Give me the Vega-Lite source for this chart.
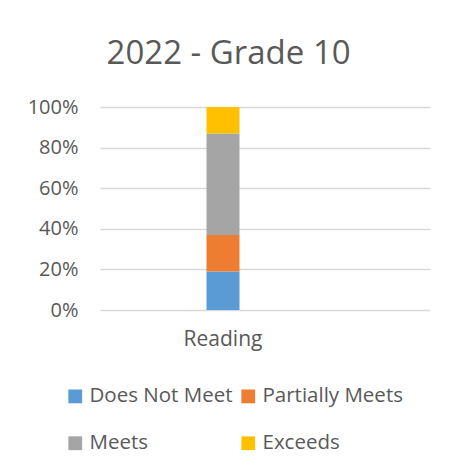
{
  "$schema": "https://vega.github.io/schema/vega-lite/v6.json",
  "width": 330,
  "height": 203,
  "autosize": "none",
  "padding": {"left": 100, "top": 107, "right": 25, "bottom": 159},
  "background": "white",
  "config": {
    "font": "Open Sans",
    "view": {"stroke": null}
  },
  "title": {
    "text": "2022 - Grade 10",
    "fontSize": 33,
    "fontWeight": "normal",
    "color": "#595959",
    "anchor": "middle",
    "frame": "bounds",
    "baseline": "alphabetic",
    "offset": 0
  },
  "data": {
    "values": [
      {"subject": "Reading", "level": "Does Not Meet", "rank": 1, "pct": 19},
      {"subject": "Reading", "level": "Partially Meets", "rank": 2, "pct": 18},
      {"subject": "Reading", "level": "Meets", "rank": 3, "pct": 50},
      {"subject": "Reading", "level": "Exceeds", "rank": 4, "pct": 13}
    ]
  },
  "mark": {"type": "bar"},
  "encoding": {
    "x": {
      "field": "subject",
      "type": "nominal",
      "scale": {"paddingInner": 0.7778, "paddingOuter": 1, "align": 0.3586},
      "axis": {
        "title": null,
        "labelAngle": 0,
        "ticks": false,
        "domain": false,
        "labelFontSize": 21,
        "labelColor": "#595959",
        "labelPadding": 18
      }
    },
    "y": {
      "field": "pct",
      "type": "quantitative",
      "stack": "normalize",
      "scale": {"domain": [0, 1]},
      "axis": {
        "title": null,
        "format": "%",
        "values": [0, 0.2, 0.4, 0.6, 0.8, 1],
        "domain": false,
        "ticks": false,
        "labelFontSize": 20,
        "labelColor": "#595959",
        "labelPadding": 22,
        "gridColor": "#d9d9d9",
        "gridWidth": 1.5
      }
    },
    "order": {"field": "rank", "type": "quantitative", "sort": "ascending"},
    "color": {
      "field": "level",
      "type": "nominal",
      "sort": ["Does Not Meet", "Partially Meets", "Meets", "Exceeds"],
      "scale": {
        "domain": ["Does Not Meet", "Partially Meets", "Meets", "Exceeds"],
        "range": ["#5b9bd5", "#ed7d31", "#a5a5a5", "#ffc000"]
      },
      "legend": {
        "title": null,
        "orient": "none",
        "legendX": -35,
        "legendY": 279,
        "direction": "horizontal",
        "columns": 2,
        "symbolType": "square",
        "symbolSize": 190,
        "symbolStrokeWidth": 0,
        "labelFontSize": 20.5,
        "labelColor": "#595959",
        "labelOffset": 4,
        "columnPadding": 5,
        "rowPadding": 26
      }
    }
  }
}
